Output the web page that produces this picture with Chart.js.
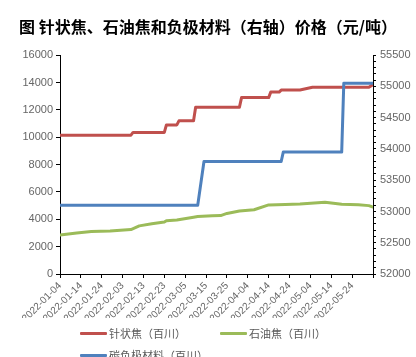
<!DOCTYPE html>
<html><head><meta charset="utf-8">
<script src="https://cdn.jsdelivr.net/npm/chart.js@4/dist/chart.umd.min.js"></script>
<style>
html,body{margin:0;padding:0;background:#fff;overflow:hidden;}
#wrap{position:relative;width:416px;height:357px;}
#legend{position:absolute;left:0;top:0;width:416px;height:357px;pointer-events:none;font-family:"Noto Sans CJK SC",sans-serif;font-size:11px;color:#595959;}
.li{position:absolute;display:flex;align-items:center;white-space:nowrap;height:16px;line-height:16px;}
.sw{width:27px;height:3px;margin-right:2px;border-radius:1px;}
</style></head><body>
<div id="wrap"><canvas id="c" width="416" height="357"></canvas><div id="legend"></div></div>
<script>
const chartTitle = '图 针状焦、石油焦和负极材料（右轴）价格（元/吨）';
const seriesNames = ['针状焦（百川）', '石油焦（百川）', '碳负极材料（百川）'];
const seriesColors = ['#C0504D', '#9BBB59', '#4F81BD'];

// 针状焦 (left axis)
const needleDates = ['2022-01-04','2022-02-07','2022-02-08','2022-02-23','2022-02-24','2022-03-01','2022-03-02','2022-03-09','2022-03-10','2022-03-31','2022-04-01','2022-04-14','2022-04-15','2022-04-19','2022-04-20','2022-04-29','2022-05-05','2022-06-01','2022-06-03'];
const needleValues = [10150,10150,10350,10350,10900,10900,11200,11200,12200,12200,12900,12900,13300,13300,13450,13450,13650,13650,13850];

// 石油焦 (left axis)
const petDates = ['2022-01-04','2022-01-12','2022-01-19','2022-01-28','2022-02-07','2022-02-11','2022-02-17','2022-02-23','2022-02-24','2022-03-01','2022-03-09','2022-03-11','2022-03-18','2022-03-22','2022-03-25','2022-03-31','2022-04-07','2022-04-14','2022-04-22','2022-04-29','2022-05-11','2022-05-19','2022-05-27','2022-06-01','2022-06-03'];
const petValues = [2850,3000,3100,3150,3250,3520,3680,3800,3900,3950,4150,4200,4260,4270,4430,4600,4700,5050,5080,5120,5250,5100,5070,5000,4900];

// 碳负极材料 (right axis)
const anodeDates = ['2022-01-04','2022-03-11','2022-03-14','2022-04-20','2022-04-21','2022-05-19','2022-05-20','2022-06-03'];
const anodeValues = [53100,53100,53800,53800,53950,53950,55050,55050];

const xTickLabels = ['2022-01-04','2022-01-14','2022-01-24','2022-02-03','2022-02-13','2022-02-23','2022-03-05','2022-03-15','2022-03-25','2022-04-04','2022-04-14','2022-04-24','2022-05-04','2022-05-14','2022-05-24'];
const xAxisEnd = '2022-06-03';
const leftTicks = [0,2000,4000,6000,8000,10000,12000,14000,16000];
const rightTicks = [52000,52500,53000,53500,54000,54500,55000,55500];

function dayNum(s){
  const [y,m,d] = s.split('-').map(Number);
  return (Date.UTC(y,m-1,d) - Date.UTC(2022,0,4)) / 86400000;
}
function pts(dates, vals){ return dates.map((d,i)=>({x:dayNum(d), y:vals[i]})); }

const tickFont = {family:'"Liberation Sans", Arial, sans-serif', size:11};
const tickColor = '#666';

const chart = new Chart(document.getElementById('c'), {
  type:'line',
  data:{datasets:[
    {label:seriesNames[0], data:pts(needleDates,needleValues), borderColor:seriesColors[0], yAxisID:'y', order:2},
    {label:seriesNames[1], data:pts(petDates,petValues), borderColor:seriesColors[1], yAxisID:'y', order:3},
    {label:seriesNames[2], data:pts(anodeDates,anodeValues), borderColor:seriesColors[2], yAxisID:'y1', order:1}
  ]},
  options:{
    responsive:false, animation:false,
    layout:{padding:{left:0,right:0,top:0,bottom:39}},
    elements:{line:{borderWidth:3, tension:0, borderJoinStyle:'round', borderCapStyle:'round'}, point:{radius:0}},
    plugins:{
      legend:{display:false},
      tooltip:{enabled:false},
      title:{display:true, text:chartTitle, color:'#000', font:{family:'"Noto Sans CJK SC", sans-serif', size:16, weight:'bold'}, padding:{top:17,bottom:19}}
    },
    scales:{
      x:{type:'linear', min:dayNum(xTickLabels[0]), max:dayNum(xAxisEnd),
        afterBuildTicks:(s)=>{ s.ticks = xTickLabels.map(d=>({value:dayNum(d)})).concat([{value:dayNum(xAxisEnd)}]); },
        afterFit:(s)=>{ s.height = 44; },
        ticks:{autoSkip:false, minRotation:45, maxRotation:45, font:{family:'"Liberation Sans", Arial, sans-serif', size:10}, color:tickColor, padding:2,
          callback:(v,i)=> i < xTickLabels.length ? xTickLabels[i] : ''},
        grid:{drawOnChartArea:false, drawTicks:true, tickLength:4, tickColor:'#000'},
        border:{display:true, color:'#000', width:1}
      },
      y:{position:'left', min:0, max:16000,
        afterBuildTicks:(s)=>{ s.ticks = leftTicks.map(v=>({value:v})); },
        afterFit:(s)=>{ s.width = 60; },
        ticks:{font:tickFont, color:tickColor, padding:3, callback:(v)=>String(v)},
        grid:{drawOnChartArea:false, drawTicks:true, tickLength:4, tickColor:'#000'},
        border:{display:true, color:'#000', width:1}
      },
      y1:{position:'right', min:52000, max:55500,
        afterFit:(s)=>{ s.width = 43; },
        ticks:{stepSize:100, autoSkip:false, font:tickFont, color:tickColor, padding:4,
          callback:(v)=> rightTicks.includes(v) ? String(v) : ''},
        grid:{drawOnChartArea:false, drawTicks:true, tickLength:3, tickColor:'#000'},
        border:{display:true, color:'#000', width:1}
      }
    }
  }
});

// HTML legend built from the series
const legendPos = [{left:80, cy:333},{left:220, cy:333},{left:80, cy:355}];
const lg = document.getElementById('legend');
seriesNames.forEach((n,i)=>{
  const el = document.createElement('div');
  el.className = 'li';
  el.style.left = legendPos[i].left + 'px';
  el.style.top = (legendPos[i].cy - 8) + 'px';
  el.innerHTML = '<span class="sw" style="background:'+seriesColors[i]+'"></span><span>'+n+'</span>';
  lg.appendChild(el);
});
</script>
</body></html>
